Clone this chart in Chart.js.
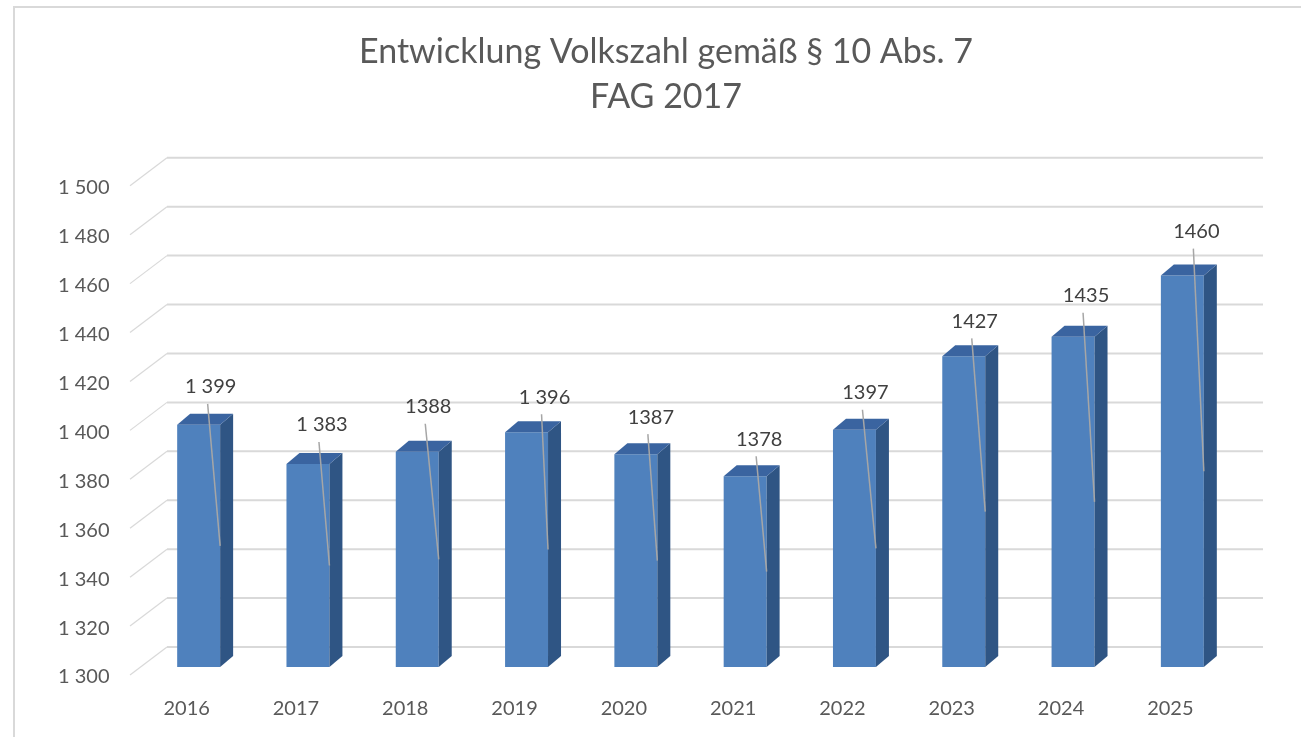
<!DOCTYPE html>
<html>
<head>
<meta charset="utf-8">
<script src="https://cdn.jsdelivr.net/npm/chart.js@4"></script>
<style>
  html, body { margin: 0; padding: 0; background: #fff; }
  canvas { display: block; }
</style>
</head>
<body>
<canvas id="volkszahlChart" width="1301" height="737"></canvas>
<script>
// --- Daten ---
const years = ['2016', '2017', '2018', '2019', '2020', '2021', '2022', '2023', '2024', '2025'];
const volkszahl = [1399, 1383, 1388, 1396, 1387, 1378, 1397, 1427, 1435, 1460];
const valueLabels = ['1 399', '1 383', '1388', '1 396', '1387', '1378', '1397', '1427', '1435', '1460'];
const yTickLabels = ['1 300', '1 320', '1 340', '1 360', '1 380', '1 400', '1 420', '1 440', '1 460', '1 480', '1 500'];

const FONT = "Lato, 'Open Sans', sans-serif";
const DEPTH_X = 13;   // Tiefe der Säulen
const DEPTH_Y = 11;
const WALL_DY = 20;   // Rückwand liegt höher als die Säulenfront

// Platzierung der Datenbeschriftungen (wie von Hand verschoben): [dx, Abstand über Säule]
const labelPlacement = [[12, 38], [14, 39], [11, 45], [18, 35], [15, 37], [14, 37], [11, 37], [11, 35], [13, 41], [14, 44]];

// Rahmen + weißer Hintergrund
const framePlugin = {
  id: 'frame',
  beforeDraw(chart) {
    const ctx = chart.ctx;
    ctx.save();
    ctx.fillStyle = '#fff';
    ctx.fillRect(0, 0, chart.width, chart.height);
    ctx.strokeStyle = '#d9d9d9';
    ctx.lineWidth = 2;
    ctx.beginPath();
    ctx.moveTo(14, chart.height + 5);
    ctx.lineTo(14, 7);
    ctx.lineTo(chart.width + 5, 7);
    ctx.stroke();
    ctx.restore();
  }
};

// Gitterlinien in Pseudo-3D (Boden-Schräge + Rückwand)
const wallGridPlugin = {
  id: 'wallGrid',
  beforeDatasetsDraw(chart) {
    const { ctx, chartArea } = chart;
    const y = chart.scales.y;
    ctx.save();
    ctx.strokeStyle = '#d9d9d9';
    y.ticks.forEach(t => {
      const yb = y.getPixelForValue(t.value) - WALL_DY;
      ctx.lineWidth = 1.2;
      ctx.beginPath();
      ctx.moveTo(chartArea.left - 14, yb + 28);
      ctx.lineTo(chartArea.left + 23, yb);
      ctx.stroke();
      ctx.lineWidth = 2;
      ctx.beginPath();
      ctx.moveTo(chartArea.left + 23, yb);
      ctx.lineTo(chartArea.right + 26, yb);
      ctx.stroke();
    });
    ctx.restore();
  }
};

// Seiten- und Deckfläche der Säulen + Datenbeschriftung mit Führungslinie
const bar3dPlugin = {
  id: 'bar3d',
  afterDatasetsDraw(chart) {
    const { ctx, chartArea } = chart;
    const meta = chart.getDatasetMeta(0);
    ctx.save();
    meta.data.forEach((bar, i) => {
      const p = bar.getProps(['x', 'y', 'base', 'width'], true);
      const left = p.x - p.width / 2;
      const right = p.x + p.width / 2;
      const base = Math.min(p.base, chartArea.bottom); // Achse beginnt bei 1300

      // Seite
      ctx.fillStyle = '#2f5584';
      ctx.beginPath();
      ctx.moveTo(right, p.y);
      ctx.lineTo(right + DEPTH_X, p.y - DEPTH_Y);
      ctx.lineTo(right + DEPTH_X, base - DEPTH_Y);
      ctx.lineTo(right, base);
      ctx.closePath();
      ctx.fill();

      // Deckel
      ctx.fillStyle = '#3a64a0';
      ctx.beginPath();
      ctx.moveTo(left, p.y);
      ctx.lineTo(left + DEPTH_X, p.y - DEPTH_Y);
      ctx.lineTo(right + DEPTH_X, p.y - DEPTH_Y);
      ctx.lineTo(right, p.y);
      ctx.closePath();
      ctx.fill();

      // Führungslinie
      const [dx, lift] = labelPlacement[i];
      const lx = p.x + dx;
      const ly = p.y - lift;
      ctx.strokeStyle = '#a6a6a6';
      ctx.lineWidth = 1.5;
      ctx.beginPath();
      ctx.moveTo(lx - 3, ly + 17);
      ctx.lineTo(right, (p.y + base) / 2);
      ctx.stroke();

      // Wert
      ctx.fillStyle = '#404040';
      ctx.font = '20px ' + FONT;
      ctx.textAlign = 'center';
      ctx.textBaseline = 'middle';
      ctx.fillText(valueLabels[i], lx, ly);
    });
    ctx.restore();
  }
};

new Chart(document.getElementById('volkszahlChart'), {
  type: 'bar',
  data: {
    labels: years,
    datasets: [{
      label: 'Volkszahl',
      data: volkszahl,
      backgroundColor: '#4f81bd',
      borderWidth: 0,
      categoryPercentage: 1,
      barPercentage: 0.393
    }]
  },
  options: {
    responsive: false,
    animation: false,
    layout: { padding: { left: 95, right: 64, top: 0, bottom: 0 } },
    plugins: {
      legend: { display: false },
      tooltip: { enabled: false },
      title: {
        display: true,
        text: ['Entwicklung Volkszahl gemäß § 10 Abs. 7', 'FAG 2017'],
        color: '#595959',
        font: { family: FONT, size: 34, weight: 'normal', lineHeight: 1.32 },
        padding: { top: 30, bottom: 58 }
      }
    },
    scales: {
      x: {
        grid: { display: false, drawTicks: false },
        border: { display: false },
        ticks: {
          color: '#595959',
          font: { family: FONT, size: 20 },
          padding: 30,
          labelOffset: -12
        },
        afterFit(scale) { scale.height = 70; }
      },
      y: {
        min: 1300,
        max: 1500,
        grid: { display: false, drawTicks: false },
        border: { display: false },
        ticks: {
          stepSize: 20,
          color: '#595959',
          font: { family: FONT, size: 20 },
          // gespiegelt, damit die Beschriftung links über die schmale Achse hinausragen darf
          mirror: true,
          crossAlign: 'far',
          padding: -86,
          labelOffset: 10,
          callback: (value, index) => yTickLabels[index]
        },
        afterFit(scale) { scale.width = 49; }
      }
    }
  },
  plugins: [framePlugin, wallGridPlugin, bar3dPlugin]
});
</script>
</body>
</html>
